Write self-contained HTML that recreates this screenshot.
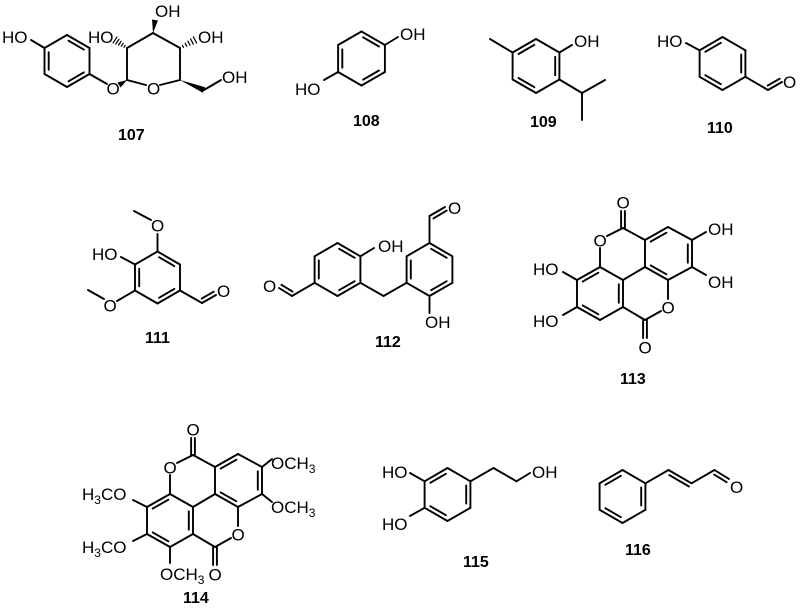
<!DOCTYPE html>
<html><head><meta charset="utf-8">
<style>
html,body{margin:0;padding:0;background:#fff;}
svg{display:block;}
text{font-family:"Liberation Sans",Arial,sans-serif;font-size:17px;fill:#000;}
text.lb{font-weight:bold;font-size:16px;}
</style></head>
<body>
<svg id="s" width="800" height="610" viewBox="0 0 800 610" xmlns="http://www.w3.org/2000/svg">
<g id="b" stroke="#000" stroke-width="1.9" stroke-linecap="round" fill="none"></g>
<g id="w" fill="#000" stroke="none"></g>
<!-- 107 -->
<text x="2" y="43">HO</text>
<text x="106.5" y="94.5">O</text>
<text x="147" y="94.5">O</text>
<text x="155" y="17">OH</text>
<text x="88" y="43">HO</text>
<text x="198" y="43">OH</text>
<text x="222" y="83">OH</text>
<text class="lb" x="118" y="140">107</text>
<!-- 108 -->
<text x="400" y="40">OH</text>
<text x="295" y="95">HO</text>
<text class="lb" x="353" y="126">108</text>
<!-- 109 -->
<text x="574" y="47">OH</text>
<text class="lb" x="530" y="127">109</text>
<!-- 110 -->
<text x="657" y="47">HO</text>
<text x="783" y="88">O</text>
<text class="lb" x="707" y="133">110</text>
<!-- 111 -->
<text x="92" y="260">HO</text>
<text x="151" y="231.5">O</text>
<text x="103.5" y="311.5">O</text>
<text x="217" y="297">O</text>
<text class="lb" x="145" y="343">111</text>
<!-- 112 -->
<text x="378" y="252">OH</text>
<text x="263" y="292">O</text>
<text x="425" y="328">OH</text>
<text x="448" y="214">O</text>
<text class="lb" x="375" y="347">112</text>
<!-- 113 -->
<text x="616.5" y="208.5">O</text>
<text x="593.5" y="246.5">O</text>
<text x="661.5" y="313.5">O</text>
<text x="638.5" y="353.5">O</text>
<text x="708" y="235">OH</text>
<text x="708" y="288">OH</text>
<text x="533" y="275">HO</text>
<text x="533" y="327">HO</text>
<text class="lb" x="620" y="384">113</text>
<!-- 114 -->
<text x="186.5" y="435.5">O</text>
<text x="163.5" y="473.5">O</text>
<text x="231.5" y="540.5">O</text>
<text x="208.5" y="580.5">O</text>
<text x="271" y="469">OCH<tspan font-size="12" dy="4">3</tspan></text>
<text x="271" y="513">OCH<tspan font-size="12" dy="4">3</tspan></text>
<text x="82" y="500">H<tspan font-size="12" dy="4">3</tspan><tspan dy="-4">CO</tspan></text>
<text x="82" y="553">H<tspan font-size="12" dy="4">3</tspan><tspan dy="-4">CO</tspan></text>
<text x="160" y="580">OCH<tspan font-size="12" dy="4">3</tspan></text>
<text class="lb" x="183" y="603">114</text>
<!-- 115 -->
<text x="382" y="478">HO</text>
<text x="382" y="530">HO</text>
<text x="532" y="478">OH</text>
<text class="lb" x="463" y="567">115</text>
<!-- 116 -->
<text x="730" y="493">O</text>
<text class="lb" x="625" y="555">116</text>
</svg>
<script>
(function(){
var S=[],W=[];
function ln(a,b){S.push('<line x1="'+a[0].toFixed(1)+'" y1="'+a[1].toFixed(1)+'" x2="'+b[0].toFixed(1)+'" y2="'+b[1].toFixed(1)+'"/>');}
function hex(cx,cy,L){var v=[];for(var i=0;i<6;i++){var a=(-90+60*i)*Math.PI/180;v.push([cx+L*Math.cos(a),cy+L*Math.sin(a)]);}return v;}
function inner(a,b,c){var dx=b[0]-a[0],dy=b[1]-a[1],l=Math.hypot(dx,dy);var nx=-dy/l,ny=dx/l;var mx=(a[0]+b[0])/2-c[0],my=(a[1]+b[1])/2-c[1];if(nx*mx+ny*my>0){nx=-nx;ny=-ny;}var o=4.2,s=0.16;ln([a[0]+dx*s+nx*o,a[1]+dy*s+ny*o],[b[0]-dx*s+nx*o,b[1]-dy*s+ny*o]);}
function ring(cx,cy,L,d){var v=hex(cx,cy,L);for(var i=0;i<6;i++)ln(v[i],v[(i+1)%6]);d.forEach(function(i){inner(v[i],v[(i+1)%6],[cx,cy]);});return v;}
function side(a,b,p){ln(a,b);var dx=b[0]-a[0],dy=b[1]-a[1],l=Math.hypot(dx,dy);var nx=-dy/l,ny=dx/l;var mx=p[0]-a[0],my=p[1]-a[1];if(nx*mx+ny*my<0){nx=-nx;ny=-ny;}var o=4,s=0.12;ln([a[0]+dx*s+nx*o,a[1]+dy*s+ny*o],[b[0]-dx*0.02+nx*o,b[1]-dy*0.02+ny*o]);}
function cen(a,b){var dx=b[0]-a[0],dy=b[1]-a[1],l=Math.hypot(dx,dy);var nx=-dy/l*1.9,ny=dx/l*1.9;ln([a[0]+nx,a[1]+ny],[b[0]+nx,b[1]+ny]);ln([a[0]-nx,a[1]-ny],[b[0]-nx,b[1]-ny]);}
function wedge(a,b){var dx=b[0]-a[0],dy=b[1]-a[1],l=Math.hypot(dx,dy);var nx=-dy/l*3,ny=dx/l*3;W.push('<polygon points="'+a[0]+','+a[1]+' '+(b[0]+nx)+','+(b[1]+ny)+' '+(b[0]-nx)+','+(b[1]-ny)+'"/>');}
function hash(a,b){var dx=b[0]-a[0],dy=b[1]-a[1],l=Math.hypot(dx,dy);var n=5;for(var i=1;i<=n;i++){var t=i/n,w=0.5+3*t;var px=a[0]+dx*t,py=a[1]+dy*t;var nx=-dy/l*w,ny=dx/l*w;S.push('<line stroke-width="1.2" x1="'+(px+nx)+'" y1="'+(py+ny)+'" x2="'+(px-nx)+'" y2="'+(py-ny)+'"/>');}}
var v;
// 107
v=ring(67,61,26,[0,2,4]);
ln(v[5],[31,40]);ln(v[2],[107,84]);
wedge([127,80],[119,85]);
var C1=[127,80],C2=[127,48],C3=[153,33],C4=[180,48],C5=[180,80];
ln(C1,C2);ln(C2,C3);ln(C3,C4);ln(C4,C5);ln(C5,[160,85]);ln(C1,[146,85]);
wedge(C3,[155,20]);hash(C2,[115,40]);hash(C4,[195,40]);wedge(C5,[204,90]);ln([204,90],[221,80]);
// 108
v=ring(361.5,58.5,27,[0,2,4]);ln(v[1],[398,37]);ln(v[4],[324,80]);
// 109
v=ring(536,66,27,[1,3,5]);ln(v[5],[490,39]);ln(v[1],[572,45]);ln(v[2],[582,93]);ln([582,93],[605,80]);ln([582,93],[582,120]);
// 110
v=ring(722.5,63.5,26.5,[1,3,5]);ln(v[5],[686,43]);ln(v[2],[768,90]);side([768,90],[782,82],[768,80]);
// 111
v=ring(157.5,277.5,26,[0,2,4]);ln(v[5],[121,257]);ln(v[0],[157.5,234]);ln([151,220],[134,211]);
ln(v[4],[117,301]);ln([104,299],[88,290]);ln(v[2],[202,303]);side([202,303],[216,295],[202,293]);
// 112
var L=ring(337.5,269.5,26.5,[0,2,4]),R=ring(429.5,269.5,26.5,[0,2,4]);
ln(L[1],[374,248]);ln(L[4],[292,296]);side([292,296],[279,288],[292,286]);
ln(L[2],[383.5,296]);ln([383.5,296],R[4]);ln(R[3],[429.5,313]);ln(R[0],[429.5,216]);side([429.5,216],[445,207],[438,220]);
// 113 / 114
function ell(dx,dy){
function p(x,y){return [x+dx,y+dy];}
var TC=p(623,228),A1=p(645,240),A2=p(668,227),A3=p(692,240),A4=p(692,267),A5=p(668,280),A6=p(645,267),
B1=p(600,267),B2=p(577,280),B3=p(577,307),B4=p(600,320),B5=p(623,307),B6=p(623,280),BC=p(645,320);
var A=[A1,A2,A3,A4,A5,A6],B=[B1,B2,B3,B4,B5,B6];
for(var i=0;i<6;i++){ln(A[i],A[(i+1)%6]);ln(B[i],B[(i+1)%6]);}
var ca=p(668.5,253.5),cb=p(600,293.5);
inner(A1,A2,ca);inner(A3,A4,ca);inner(A5,A6,ca);inner(B1,B2,cb);inner(B3,B4,cb);inner(B5,B6,cb);
ln(A6,B6);ln(TC,A1);ln(TC,p(607,236));ln(p(600,248),B1);ln(B5,BC);ln(BC,p(661,311));ln(p(668,299),A5);
cen(TC,p(623,211));cen(BC,p(645,338));
return {A3:A3,A4:A4,B2:B2,B3:B3,B4:B4};
}
var e=ell(0,0);
ln(e.A3,[706,232]);ln(e.A4,[706,275]);ln(e.B2,[563,272]);ln(e.B3,[563,315]);
e=ell(-430,227);
ln(e.A3,[272,459]);ln(e.A4,[272,502]);ln(e.B2,[133,500]);ln(e.B3,[133,541]);ln(e.B4,[170,563]);
// 115
v=ring(447.5,494.5,26.5,[1,3,5]);ln(v[5],[410,473]);ln(v[4],[410,516]);ln(v[1],[493.5,468]);ln([493.5,468],[516.5,481.25]);ln([516.5,481.25],[530,473]);
// 116
v=ring(622.5,496.5,26.5,[1,3,5]);ln(v[1],[668.5,470]);side([668.5,470],[691.5,483.25],[680,490]);ln([691.5,483.25],[714.5,470]);side([714.5,470],[729,479],[714,480]);
document.getElementById('b').innerHTML=S.join('');
document.getElementById('w').innerHTML=W.join('');
})();
</script>
</body></html>
